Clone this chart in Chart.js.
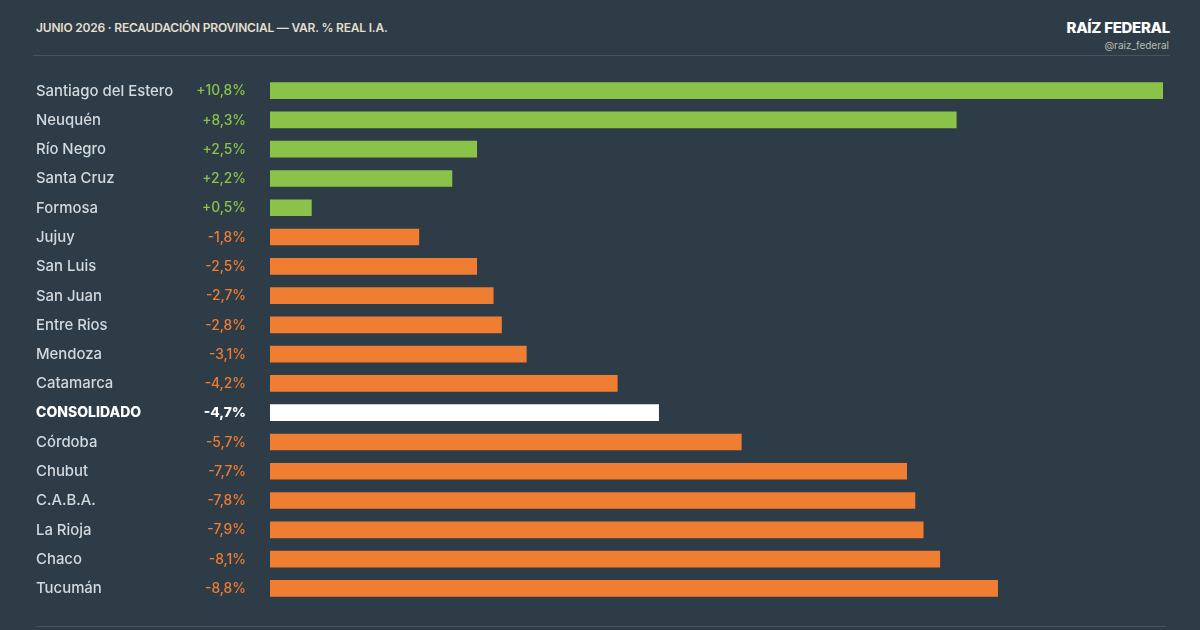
<!DOCTYPE html>
<html>
<head>
<meta charset="utf-8">
<script src="https://cdn.jsdelivr.net/npm/chart.js@4"></script>
<style>
  html, body { margin: 0; padding: 0; }
  body { width: 1200px; height: 630px; background: #2e3c47; position: relative; overflow: hidden; font-family: Inter, 'Open Sans', sans-serif; }
  .title { position: absolute; left: 36px; top: 20px; font-size: 12px; font-weight: 600; color: #e3dfcc; letter-spacing: -0.2px; }
  .brand { position: absolute; right: 30px; top: 18px; font-size: 15px; font-weight: 800; color: #ffffff; letter-spacing: -0.3px; }
  .handle { position: absolute; right: 31px; top: 39px; font-size: 10px; color: #b9bfa8; }
  .rule { position: absolute; left: 33px; width: 1137px; height: 1px; background: #465653; }
  #wrap { position: absolute; left: 0; top: 0; width: 1200px; height: 630px; }
</style>
</head>
<body>
<div class="title">JUNIO 2026 · RECAUDACIÓN PROVINCIAL — VAR. % REAL I.A.</div>
<div class="brand">RAÍZ FEDERAL</div>
<div class="handle">@raiz_federal</div>
<div class="rule" style="top:55px"></div>
<div class="rule" style="top:626px; left:36px; width:1130px"></div>
<div id="wrap"><canvas id="chart"></canvas></div>
<script>
const provinces = ['Santiago del Estero', 'Neuquén', 'Río Negro', 'Santa Cruz', 'Formosa', 'Jujuy', 'San Luis',
  'San Juan', 'Entre Rios', 'Mendoza', 'Catamarca', 'CONSOLIDADO', 'Córdoba', 'Chubut', 'C.A.B.A.', 'La Rioja',
  'Chaco', 'Tucumán'];
const variation = [10.8, 8.3, 2.5, 2.2, 0.5, -1.8, -2.5, -2.7, -2.8, -3.1, -4.2, -4.7, -5.7, -7.7, -7.8, -7.9, -8.1, -8.8];
const totalLabel = 'CONSOLIDADO';

const GREEN = '#8bc34a';
const ORANGE = '#ef7d32';
const WHITE = '#ffffff';

function barColor(i) {
  if (provinces[i] === totalLabel) return WHITE;
  return variation[i] >= 0 ? GREEN : ORANGE;
}
function fmt(v) {
  return (v > 0 ? '+' : '') + v.toFixed(1).replace('.', ',') + '%';
}

// names and values in two columns, placed on the category scale
const rowLabels = {
  id: 'rowLabels',
  afterDatasetsDraw(chart) {
    const { ctx, scales: { y } } = chart;
    ctx.save();
    ctx.textBaseline = 'middle';
    provinces.forEach((name, i) => {
      const py = y.getPixelForValue(i) + 0.5;
      const total = name === totalLabel;
      ctx.font = (total ? '800 14px ' : '500 14.9px ') + 'Inter, sans-serif';
      ctx.textAlign = 'left';
      ctx.fillStyle = total ? WHITE : '#d3d9dd';
      ctx.fillText(name, 36, py);
      ctx.textAlign = 'right';
      ctx.font = (total ? '800 ' : '500 ') + '13.8px Inter, sans-serif';
      ctx.fillStyle = total ? WHITE : (variation[i] >= 0 ? GREEN : ORANGE);
      ctx.fillText(fmt(variation[i]), 246, py);
    });
    ctx.restore();
  }
};

new Chart(document.getElementById('chart').getContext('2d'), {
  type: 'bar',
  data: {
    labels: provinces,
    datasets: [{
      data: variation.map(v => Math.abs(v)),
      backgroundColor: provinces.map((_, i) => barColor(i)),
      borderWidth: 0,
      barThickness: 16
    }]
  },
  options: {
    indexAxis: 'y',
    responsive: true,
    maintainAspectRatio: false,
    animation: false,
    layout: { padding: { left: 270, right: 37, top: 76, bottom: 27 } },
    scales: {
      x: { display: false, min: 0, max: 10.8 },
      y: { display: false }
    },
    plugins: {
      legend: { display: false },
      tooltip: { enabled: false }
    }
  },
  plugins: [rowLabels]
});
</script>
</body>
</html>
